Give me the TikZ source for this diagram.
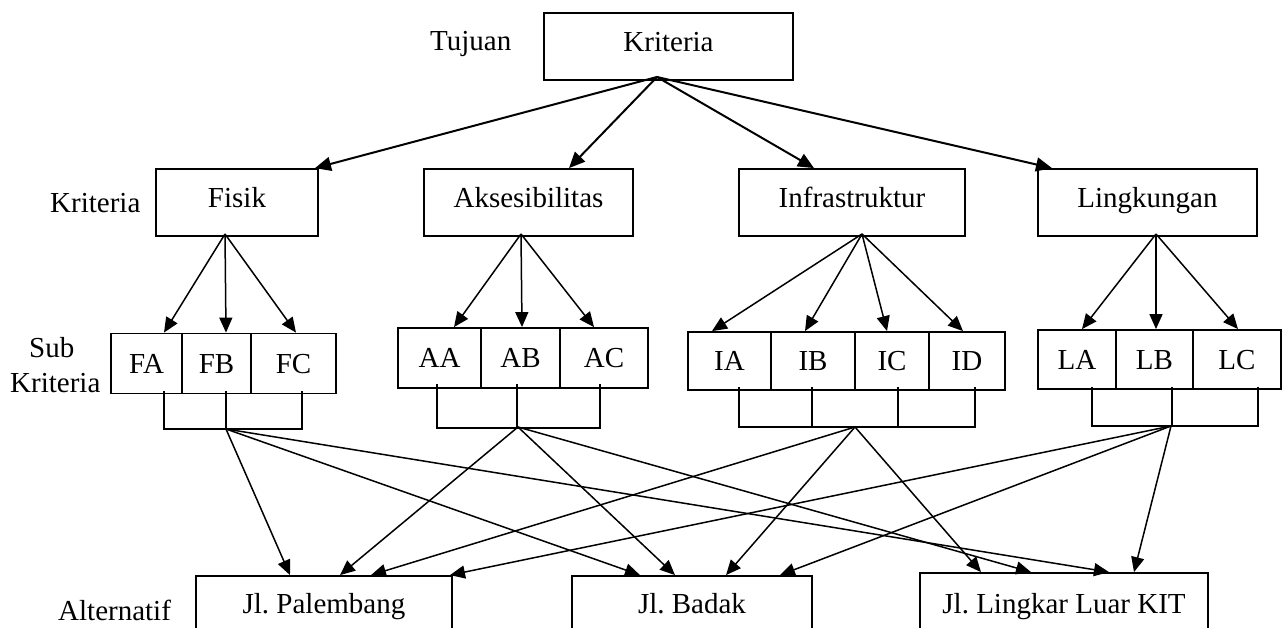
\documentclass[tikz,border=0pt]{standalone}
\usepackage{fontspec}
\setmainfont{Liberation Serif}
\usetikzlibrary{arrows.meta}
\frenchspacing
\begin{document}
\begin{tikzpicture}[x=1pt,y=-1pt,
  every node/.style={font=\fontsize{29}{33}\selectfont},
  box/.style={draw, line width=1.8pt, inner sep=0pt, text height=20pt, text depth=9pt},
  cell/.style={draw, line width=1.8pt, inner sep=0pt, text height=19pt, text depth=0pt},
  lbl/.style={anchor=base west, inner sep=0pt},
  arrtop/.style={line width=2pt, -{Triangle[length=16pt,width=14pt]}},
  arr/.style={line width=1.5pt, -{Triangle[length=15pt,width=13pt]}},
  brk/.style={line width=1.6pt}]
\useasboundingbox (0,0) rectangle (1285,628);
\clip (0,0) rectangle (1285,628);
\fill[white] (0,0) rectangle (1285,628);

% labels
\node[lbl] (lTuj) at (430,51) {Tujuan};
\node[lbl] (lKri) at (50,213) {Kriteria};
\node[lbl] (lSub) at (29,357) {Sub};
\node[lbl] (lSubK) at (10,392) {Kriteria};
\node[lbl] (lAlt) at (58,620) {Alternatif};

% goal
\node[box, minimum width=249pt, minimum height=67pt] (goal) at (668.5,46.5) {Kriteria};

% criteria
\node[box, minimum width=162pt, minimum height=67pt] (fis) at (237,202.5) {Fisik};
\node[box, minimum width=209pt, minimum height=67pt] (aks) at (528.5,202.5) {Aksesibilitas};
\node[box, minimum width=226pt, minimum height=67pt] (inf) at (852,202.5) {Infrastruktur};
\node[box, minimum width=219pt, minimum height=67pt] (lin) at (1147.5,202.5) {Lingkungan};

% sub criteria
\node[cell, minimum width=71pt, minimum height=60pt] (FA) at (146.5,363.5) {FA};
\node[cell, minimum width=69pt, minimum height=60pt] (FB) at (216.5,363.5) {FB};
\node[cell, minimum width=85pt, minimum height=60pt] (FC) at (293.5,363.5) {FC};

\node[cell, minimum width=83pt, minimum height=60pt] (AA) at (439.5,358) {AA};
\node[cell, minimum width=79pt, minimum height=60pt] (AB) at (520.5,358) {AB};
\node[cell, minimum width=88pt, minimum height=60pt] (AC) at (604,358) {AC};

\node[cell, minimum width=83pt, minimum height=58pt] (IA) at (729.5,361) {IA};
\node[cell, minimum width=84pt, minimum height=58pt] (IB) at (813,361) {IB};
\node[cell, minimum width=74pt, minimum height=58pt] (IC) at (892,361) {IC};
\node[cell, minimum width=76pt, minimum height=58pt] (ID) at (967,361) {ID};

\node[cell, minimum width=78pt, minimum height=59pt] (LA) at (1077,359.5) {LA};
\node[cell, minimum width=77pt, minimum height=59pt] (LB) at (1154.5,359.5) {LB};
\node[cell, minimum width=88pt, minimum height=59pt] (LC) at (1237,359.5) {LC};

% alternatives
\node[box, minimum width=256pt, minimum height=63pt] (pal) at (324,607.5) {Jl. Palembang};
\node[box, minimum width=240pt, minimum height=63pt] (bad) at (692,607.5) {Jl. Badak};
\node[box, minimum width=288pt, minimum height=69pt] (lkr) at (1064,607.5) {Jl. Lingkar Luar KIT};

% apex coordinates
\coordinate (gA) at (657,77);
\coordinate (fA) at (225,234);
\coordinate (aA) at (521,234);
\coordinate (iA) at (862,234);
\coordinate (lA) at (1156,234);

% goal -> criteria
\draw[arrtop] (gA) -- (315,0 |- fis.north);
\draw[arrtop] (gA) -- (569,0 |- aks.north);
\draw[arrtop] (gA) -- (814,0 |- inf.north);
\draw[arrtop] (gA) -- (1052,0 |- lin.north);

% criteria -> sub criteria
\draw[arr] (fA) -- (164,0 |- FA.north);
\draw[arr] (fA) -- (226,0 |- FB.north);
\draw[arr] (fA) -- (296,0 |- FC.north);
\draw[arr] (aA) -- (454,0 |- AA.north);
\draw[arr] (aA) -- (522,0 |- AB.north);
\draw[arr] (aA) -- (594,0 |- AC.north);
\draw[arr] (iA) -- (712,0 |- IA.north);
\draw[arr] (iA) -- (805,0 |- IB.north);
\draw[arr] (iA) -- (887,0 |- IC.north);
\draw[arr] (iA) -- (963,0 |- ID.north);
\draw[arr] (lA) -- (1082,0 |- LA.north);
\draw[arr] (lA) -- (1156,0 |- LB.north);
\draw[arr] (lA) -- (1238,0 |- LC.north);

% brackets
\draw[brk] (164,391) -- (164,429) -- (302,429) -- (302,391);
\draw[brk] (226,391) -- (226,429);
\draw[brk] (437,384) -- (437,428) -- (600,428) -- (600,384);
\draw[brk] (517,384) -- (517,428);
\draw[brk] (739,387) -- (739,427) -- (975,427) -- (975,387);
\draw[brk] (812,387) -- (812,427);
\draw[brk] (898,387) -- (898,427);
\draw[brk] (1092,387) -- (1092,426) -- (1258,426) -- (1258,387);
\draw[brk] (1172,387) -- (1172,426);

\coordinate (fB) at (226,429);
\coordinate (aB) at (518,427);
\coordinate (iB) at (855,427);
\coordinate (lB) at (1171,426);

% sub criteria -> alternatives
\draw[arr] (fB) -- (290,0 |- pal.north);
\draw[arr] (fB) -- (640,0 |- bad.north);
\draw[arr] (fB) -- (1109,0 |- lkr.north);
\draw[arr] (aB) -- (340,0 |- pal.north);
\draw[arr] (aB) -- (675,0 |- bad.north);
\draw[arr] (aB) -- (1031,0 |- lkr.north);
\draw[arr] (iB) -- (371,0 |- pal.north);
\draw[arr] (iB) -- (726,0 |- bad.north);
\draw[arr] (iB) -- (981,0 |- lkr.north);
\draw[arr] (lB) -- (450,0 |- pal.north);
\draw[arr] (lB) -- (780,0 |- bad.north);
\draw[arr] (lB) -- (1134,0 |- lkr.north);
\end{tikzpicture}
\end{document}
